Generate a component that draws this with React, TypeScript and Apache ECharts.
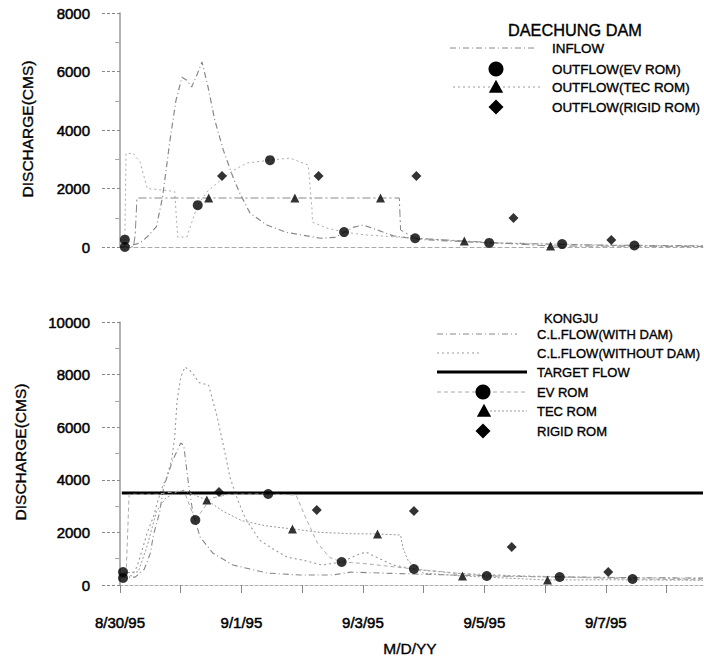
import React, { useEffect, useRef } from "react";
import * as echarts from "echarts";

const FONT = "Liberation Sans, Arial, sans-serif";

// x values are days after 8/30/95
const dateLabels = ["8/30/95", "9/1/95", "9/3/95", "9/5/95", "9/7/95"];
const topYTicks = [0, 2000, 4000, 6000, 8000];
const botYTicks = [0, 2000, 4000, 6000, 8000, 10000];

// ---- DAECHUNG DAM (top) ----
const inflow: [number, number][] = [
  [0, 0], [0.1, 20], [0.2, 60], [0.33, 140], [0.45, 350], [0.6, 700], [0.7, 1700], [0.82, 3600],
  [0.92, 5000], [1.02, 5800], [1.1, 5700], [1.18, 5470], [1.27, 5900], [1.35, 6330], [1.45, 5470],
  [1.56, 4340], [1.7, 3320], [1.86, 2390], [1.97, 1850], [2.14, 1160], [2.42, 750], [2.74, 500],
  [3.0, 410], [3.3, 300], [3.55, 330], [3.67, 480], [3.85, 680], [4.0, 750], [4.15, 650], [4.5, 380],
  [5.0, 250], [6.0, 150], [7.0, 100], [8.0, 60], [9.6, 40],
];
const evOutflowTop: [number, number][] = [
  [0, 0], [0.06, 0], [0.08, 250], [0.1, 3200], [0.22, 3200], [0.33, 2900], [0.45, 2000], [0.9, 1900],
  [0.95, 340], [1.1, 340], [1.28, 1430], [1.43, 1880], [1.6, 2190], [1.85, 2600], [2.09, 2870],
  [2.47, 2970], [2.8, 3040], [3.1, 2800], [3.16, 1330], [3.17, 850], [3.4, 650], [3.69, 510],
  [4.0, 420], [4.86, 300], [6.06, 140], [7.26, 100], [8.46, 50], [9.6, 40],
];
const tecOutflowTop: [number, number][] = [
  [0, 0], [0.22, 0], [0.25, 400], [0.26, 850], [0.28, 1675], [1.46, 1675], [2.88, 1675], [4.29, 1675],
  [4.6, 1675], [4.62, 580], [4.86, 300], [5.67, 205], [7.09, 34], [8.0, 30], [9.6, 20],
];
const evTopPts: [number, number][] = [
  [0.08, 0], [0.08, 250], [1.28, 1430], [2.47, 2970], [3.69, 510], [4.86, 300], [6.08, 140], [7.28, 100], [8.47, 50],
];
const tecTopPts: [number, number][] = [[1.46, 1675], [2.88, 1675], [4.29, 1675], [5.67, 205], [7.09, 34]];
const rigidTopPts: [number, number][] = [[1.68, 2430], [3.27, 2430], [4.88, 2430], [6.48, 990], [8.09, 240]];

// ---- KONGJU (bottom) ----
const withDam: [number, number][] = [
  [0, 300], [0.25, 300], [0.4, 600], [0.5, 1210], [0.55, 1900], [0.65, 2740], [0.72, 3730], [0.87, 4750],
  [1.0, 5400], [1.05, 5300], [1.12, 3990], [1.2, 2740], [1.32, 1820], [1.53, 1210], [1.86, 760],
  [2.42, 456], [2.96, 380], [3.5, 380], [3.8, 490], [4.5, 440], [5.5, 380], [6.5, 330], [7.5, 300],
  [8.5, 280], [9.6, 260],
];
const withoutDam: [number, number][] = [
  [0, 350], [0.2, 350], [0.28, 700], [0.38, 1450], [0.45, 2000], [0.55, 2600], [0.63, 3250], [0.7, 3750],
  [0.77, 4100], [0.85, 4750], [0.9, 5600], [0.94, 7000], [1.0, 7900], [1.07, 8290], [1.18, 8100],
  [1.3, 7700], [1.46, 7600], [1.6, 6390], [1.73, 5020], [1.81, 4100], [1.92, 3350], [2.06, 2550],
  [2.19, 2090], [2.3, 1710], [2.5, 1400], [2.75, 1060], [3.0, 950], [3.33, 760], [3.65, 875],
  [3.9, 1140], [4.05, 1250], [4.25, 1030], [4.5, 760], [4.84, 600], [5.5, 450], [6.5, 350],
  [7.5, 300], [8.5, 270], [9.6, 250],
];
const targetFlow: [number, number][] = [[0.03, 3500], [9.6, 3500]];
const evRomBot: [number, number][] = [
  [0, 266], [0.1, 400], [0.15, 3450], [0.6, 3450], [0.9, 3550], [1.05, 3600], [1.24, 2470], [1.5, 3300],
  [1.8, 3450], [2.44, 3460], [2.9, 3420], [3.05, 2600], [3.25, 1600], [3.45, 1050], [3.65, 875],
  [4.0, 820], [4.84, 608], [6.04, 342], [7.24, 304], [8.44, 228], [9.6, 200],
];
const tecRomBot: [number, number][] = [
  [0, 450], [0.3, 500], [0.45, 1500], [0.6, 2800], [0.75, 3300], [0.9, 3500], [1.05, 3600], [1.25, 3400],
  [1.43, 3230], [1.7, 2800], [2.0, 2450], [2.4, 2250], [2.84, 2130], [3.3, 2000], [3.8, 1950],
  [4.24, 1940], [4.62, 1900], [4.66, 1400], [4.75, 900], [5.0, 450], [5.64, 342], [7.04, 190],
  [8.0, 200], [9.6, 180],
];
const evBotPts: [number, number][] = [
  [0.05, 266], [0.05, 494], [1.24, 2470], [2.44, 3460], [3.65, 875], [4.84, 608], [6.04, 342], [7.24, 304], [8.44, 228],
];
const tecBotPts: [number, number][] = [[1.43, 3230], [2.84, 2130], [4.24, 1940], [5.64, 342], [7.04, 190]];
const rigidBotPts: [number, number][] = [[1.63, 3540], [3.24, 2850], [4.84, 2810], [6.45, 1445], [8.04, 494]];

const topLegend = ["INFLOW", "OUTFLOW(EV ROM)", "OUTFLOW(TEC ROM)", "OUTFLOW(RIGID ROM)"];
const botLegend = ["C.L.FLOW(WITH DAM)", "C.L.FLOW(WITHOUT DAM)", "TARGET FLOW", "EV ROM", "TEC ROM", "RIGID ROM"];

const tri = (cx: number, cy: number, s: number) => ({
  type: "polygon",
  shape: { points: [[cx, cy - s * 0.55], [cx + s * 0.55, cy + s * 0.45], [cx - s * 0.55, cy + s * 0.45]] },
  style: { fill: "#000" },
});
const dia = (cx: number, cy: number, s: number) => ({
  type: "polygon",
  shape: { points: [[cx, cy - s / 2], [cx + s / 2, cy], [cx, cy + s / 2], [cx - s / 2, cy]] },
  style: { fill: "#000" },
});
const txt = (x: number, y: number, t: string, size = 13, extra: any = {}) => ({
  type: "text",
  x,
  y,
  ...extra,
  style: {
    text: t,
    fontSize: size,
    fontFamily: FONT,
    fill: "#000",
    stroke: "#000",
    lineWidth: 0.35,
    textAlign: "left",
    textVerticalAlign: "middle",
    ...(extra.style || {}),
  },
});
const ln = (x1: number, x2: number, y: number, dash: any, color = "#888", w = 1) => ({
  type: "line",
  shape: { x1, y1: y, x2, y2: y },
  style: { stroke: color, lineWidth: w, lineDash: dash },
});

function lineSeries(data: [number, number][], idx: number, color: string, dash: any, width = 1) {
  return {
    type: "line",
    xAxisIndex: idx,
    yAxisIndex: idx,
    data,
    showSymbol: false,
    symbol: "none",
    silent: true,
    lineStyle: { color, width, type: dash },
  };
}
function scatterSeries(data: [number, number][], idx: number, symbol: string, size: number) {
  return {
    type: "scatter",
    xAxisIndex: idx,
    yAxisIndex: idx,
    data,
    symbol,
    symbolSize: size,
    itemStyle: { color: "#000" },
    z: 5,
  };
}

export default function App() {
  const ref = useRef<HTMLDivElement>(null);
  useEffect(() => {
    if (!ref.current) return;
    const chart = echarts.init(ref.current, null, { renderer: "svg" });
    const labelStyle = {
      fontSize: 15,
      color: "#000",
      fontFamily: FONT,
      textBorderColor: "#000",
      textBorderWidth: 0.5,
    };
    const yAxisBase = (idx: number, max: number) => ({
      type: "value",
      gridIndex: idx,
      min: 0,
      max,
      interval: 2000,
      axisLine: { show: true, lineStyle: { color: "#999", width: 1.5 } },
      axisTick: { show: true, length: 18, lineStyle: { color: "#888", type: [3, 2] } },
      minorTick: { show: true, splitNumber: 2, length: 5, lineStyle: { color: "#aaa" } },
      axisLabel: {
        margin: 30,
        ...labelStyle,
        formatter: (v: number) => {
          const arr = idx === 0 ? topYTicks : botYTicks;
          return arr.indexOf(v) >= 0 ? String(v) : "";
        },
      },
      splitLine: { show: false },
    });
    const option: any = {
      animation: false,
      backgroundColor: "#fff",
      grid: [
        { left: 120, top: 13, right: 1, height: 234 },
        { left: 120, top: 322, right: 1, height: 263 },
      ],
      xAxis: [
        {
          type: "value",
          gridIndex: 0,
          min: 0,
          max: 9.6,
          interval: 1,
          axisLine: { show: true, lineStyle: { color: "#aaa", type: [4, 3] } },
          axisTick: { show: false },
          axisLabel: { show: false },
          splitLine: { show: false },
        },
        {
          type: "value",
          gridIndex: 1,
          min: 0,
          max: 9.6,
          interval: 1,
          axisLine: { show: true, lineStyle: { color: "#aaa", type: [3, 2] } },
          axisTick: { show: true, length: 8, lineStyle: { color: "#888" } },
          axisLabel: {
            margin: 30,
            ...labelStyle,
            showMaxLabel: false,
            formatter: (v: number) => (Math.round(v) % 2 === 0 ? dateLabels[Math.round(v) / 2] || "" : ""),
          },
          splitLine: { show: false },
        },
      ],
      yAxis: [yAxisBase(0, 8000), yAxisBase(1, 10000)],
      series: [
        lineSeries(inflow, 0, "#888", [6, 3, 1, 3], 1.2),
        lineSeries(evOutflowTop, 0, "#aaa", [2, 3], 1),
        lineSeries(tecOutflowTop, 0, "#888", [8, 3, 2, 3], 1),
        scatterSeries(evTopPts, 0, "circle", 10),
        scatterSeries(tecTopPts, 0, "triangle", 9),
        scatterSeries(rigidTopPts, 0, "diamond", 10),
        lineSeries(withDam, 1, "#888", [6, 3, 1, 3], 1.1),
        lineSeries(withoutDam, 1, "#999", [2, 3], 1.1),
        lineSeries(targetFlow, 1, "#000", "solid", 3),
        lineSeries(evRomBot, 1, "#aaa", [4, 3], 1),
        lineSeries(tecRomBot, 1, "#999", [2, 2], 1),
        scatterSeries(evBotPts, 1, "circle", 10),
        scatterSeries(tecBotPts, 1, "triangle", 9),
        scatterSeries(rigidBotPts, 1, "diamond", 10),
      ],
      graphic: [
        txt(27, 129, "DISCHARGE(CMS)", 15.5, { rotation: Math.PI / 2, style: { textAlign: "center" } }),
        txt(20, 452, "DISCHARGE(CMS)", 15.5, { rotation: Math.PI / 2, style: { textAlign: "center" } }),
        txt(410, 648, "M/D/YY", 15.5, { style: { textAlign: "center" } }),
        // top legend
        txt(508, 30, "DAECHUNG DAM", 16.3),
        ln(450, 535, 48, [6, 3, 1, 3]),
        txt(552, 48, topLegend[0], 13.4),
        { type: "circle", shape: { cx: 496, cy: 69, r: 7.5 }, style: { fill: "#000" } },
        txt(552, 69, topLegend[1], 13.4),
        ln(453, 540, 87, [2, 3], "#999"),
        tri(496, 87, 13),
        txt(552, 87, topLegend[2], 13.4),
        dia(496, 107, 15),
        txt(552, 107, topLegend[3], 13.4),
        // bottom legend
        txt(544, 318, "KONGJU", 13),
        ln(437, 517, 334, [6, 3, 1, 3]),
        txt(537, 334, botLegend[0]),
        ln(437, 480, 353, [2, 3], "#999"),
        txt(537, 353, botLegend[1]),
        ln(437, 527, 372, [], "#000", 3),
        txt(537, 372, botLegend[2]),
        ln(437, 527, 392, [4, 3], "#aaa"),
        { type: "circle", shape: { cx: 483, cy: 392, r: 7.5 }, style: { fill: "#000" } },
        txt(537, 392, botLegend[3]),
        ln(490, 527, 411, [2, 2], "#999"),
        tri(484, 411, 13),
        txt(537, 411, botLegend[4]),
        dia(483, 431, 15),
        txt(537, 431, botLegend[5]),
      ],
    };
    chart.setOption(option);
    return () => chart.dispose();
  }, []);
  return (
    <div
      ref={ref}
      style={{ position: "fixed", left: 0, top: 0, width: 704, height: 657, background: "#fff" }}
    />
  );
}
